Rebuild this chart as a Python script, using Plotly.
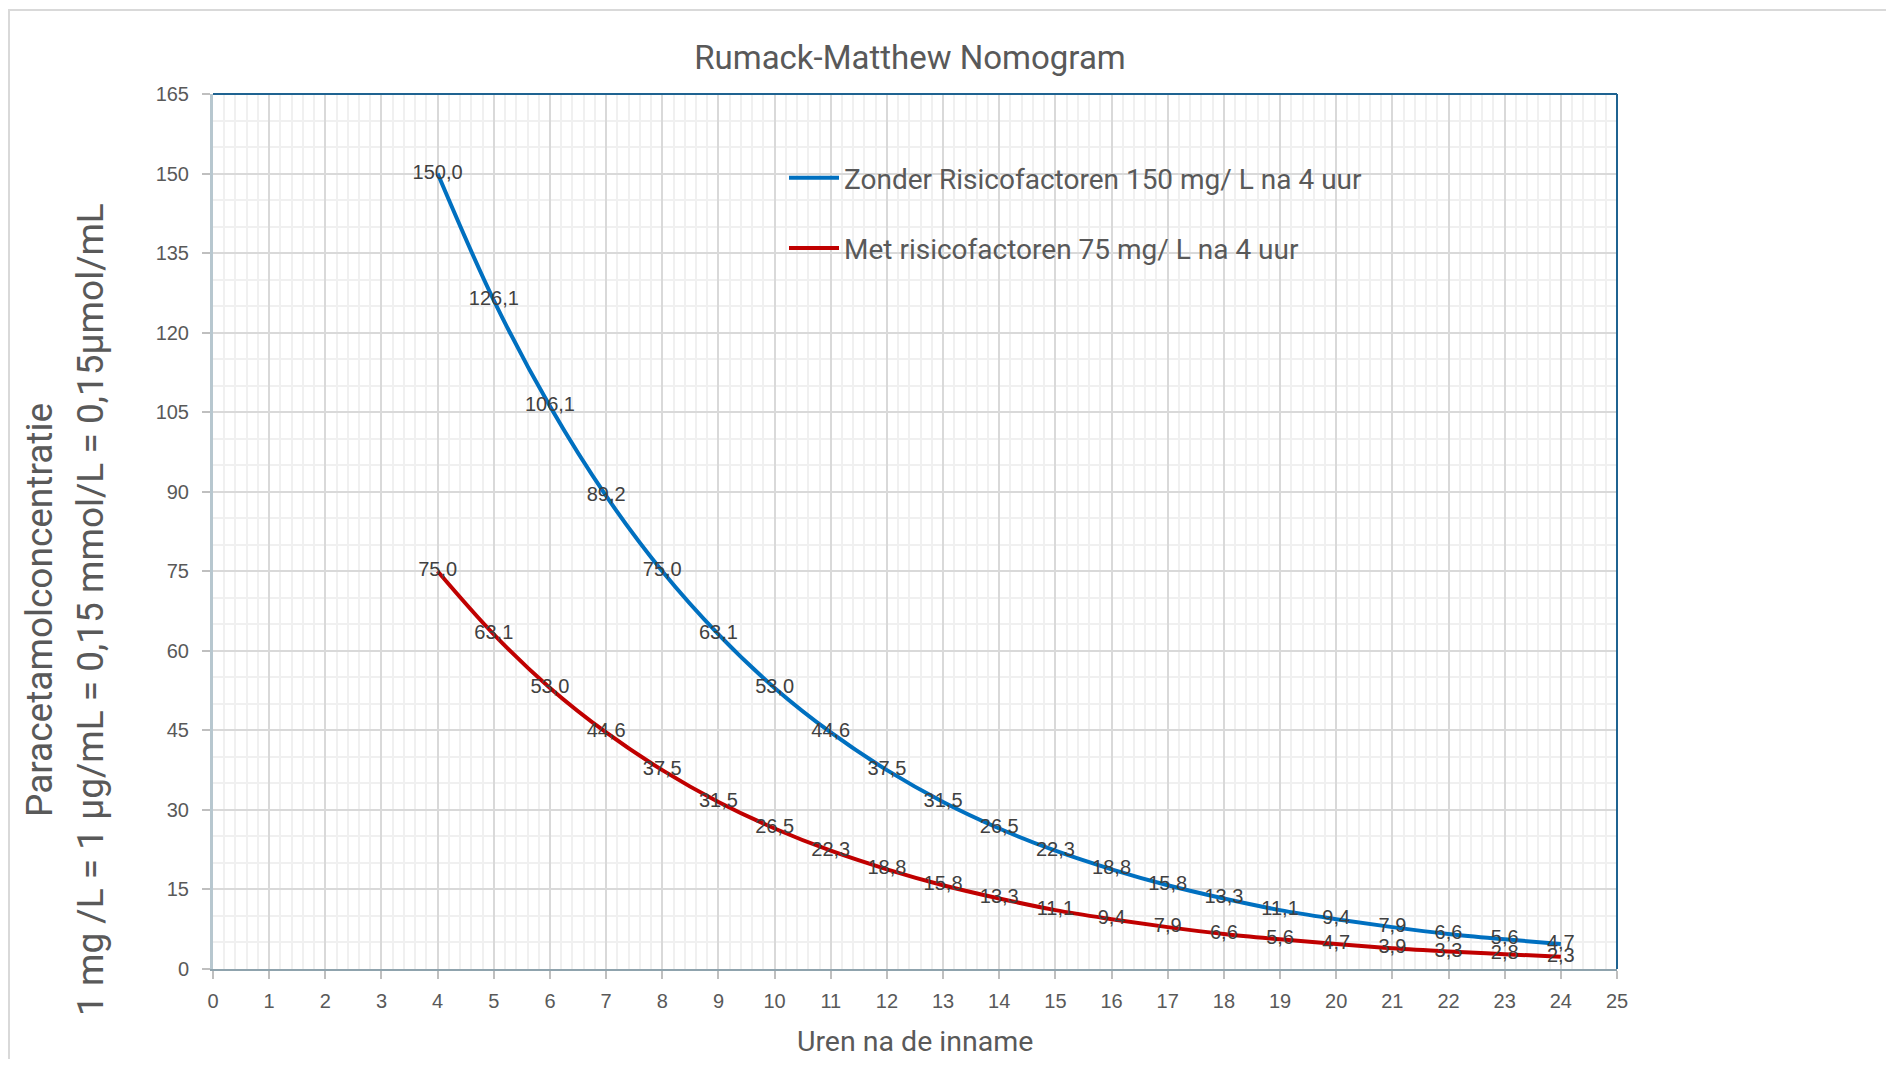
import plotly.graph_objects as go

hours = [4, 5, 6, 7, 8, 9, 10, 11, 12, 13, 14, 15, 16, 17, 18, 19, 20, 21, 22, 23, 24]
zonder = [150.0, 126.1, 106.1, 89.2, 75.0, 63.1, 53.0, 44.6, 37.5, 31.5, 26.5, 22.3,
          18.8, 15.8, 13.3, 11.1, 9.4, 7.9, 6.6, 5.6, 4.7]
met = [75.0, 63.1, 53.0, 44.6, 37.5, 31.5, 26.5, 22.3, 18.8, 15.8, 13.3, 11.1,
       9.4, 7.9, 6.6, 5.6, 4.7, 3.9, 3.3, 2.8, 2.3]
series_names = ["Zonder Risicofactoren 150 mg/ L na 4 uur", "Met risicofactoren 75 mg/ L na 4 uur"]
series_colors = ["#0070C0", "#C00000"]
x_ticks = list(range(0, 26))
y_ticks = list(range(0, 166, 15))

# page has an 8px body margin; work in page coordinates and convert
OFF = 8
W, H = 1894 - 2 * OFF, 1067 - 2 * OFF
P_L, P_R, P_T, P_B = 213, 1617, 94, 969  # plot area in page pixels
ML, MT = P_L - OFF, P_T - OFF
MR = W - (P_R - OFF)
MB = H - (P_B - OFF)
PW, PH = P_R - P_L, P_B - P_T

def px(x):
    return (x - P_L) / PW

def py(y):
    return (P_B - y) / PH

fig = go.Figure()
for i, (name, vals, col) in enumerate(zip(series_names, [zonder, met], series_colors)):
    fig.add_trace(go.Scatter(
        x=hours, y=vals, name=name, mode="lines+text",
        line=dict(color=col, width=4, shape="spline"),
        texttemplate="%{y:.1f}", textposition="middle center",
        textfont=dict(family="Liberation Sans", size=20, color="#404040"),
        legendgroup=f"g{i}", hoverinfo="skip",
    ))

fig.update_layout(
    width=W, height=H, separators=",.",
    margin=dict(l=ML, r=MR, t=MT, b=MB),
    paper_bgcolor="white", plot_bgcolor="white",
    title=dict(text="Rumack-Matthew Nomogram", x=(910 - OFF) / W, xanchor="center",
               y=1 - (57 - OFF) / H, yanchor="middle",
               font=dict(family="Roboto", size=33, color="#595959")),
    legend=dict(x=px(784), y=py(153), xanchor="left", yanchor="top",
                bgcolor="rgba(0,0,0,0)", tracegroupgap=31,
                font=dict(family="Roboto", size=28, color="#595959"),
                itemwidth=50),
    showlegend=True,
)
fig.update_xaxes(
    range=[0, 25], tickvals=x_ticks, ticktext=[str(v) for v in x_ticks],
    showgrid=True, gridcolor="#d9d9d9", gridwidth=2,
    minor=dict(dtick=0.2, showgrid=True, gridcolor="#f0f0f0", gridwidth=2),
    showline=True, linecolor="#8fa3ad", linewidth=2,
    ticks="outside", ticklen=8, tickcolor="#bfbfbf", tickwidth=2,
    ticklabelstandoff=5,
    tickfont=dict(family="Liberation Sans", size=20, color="#595959"),
    zeroline=False, fixedrange=True,
)
fig.update_yaxes(
    range=[0, 165], tickvals=y_ticks, ticktext=[str(v) for v in y_ticks],
    showgrid=True, gridcolor="#d9d9d9", gridwidth=2,
    minor=dict(dtick=5, showgrid=True, gridcolor="#f0f0f0", gridwidth=2),
    showline=True, linecolor="#b7c7cf", linewidth=3,
    ticks="outside", ticklen=8, tickcolor="#bfbfbf", tickwidth=2,
    ticklabelstandoff=9,
    tickfont=dict(family="Liberation Sans", size=20, color="#595959"),
    zeroline=False, fixedrange=True,
)

# plot-area border (top and right)
fig.add_shape(type="line", xref="paper", yref="paper", x0=0, x1=1, y0=1, y1=1,
              line=dict(color="#1f6391", width=2))
fig.add_shape(type="line", xref="paper", yref="paper", x0=1, x1=1, y0=0, y1=1,
              line=dict(color="#1f6391", width=2))
# chart outer border
fig.add_shape(type="rect", xref="paper", yref="paper", x0=px(9), x1=px(1910),
              y0=py(1090), y1=py(10), line=dict(color="#d9d9d9", width=2), layer="below")

fig.add_annotation(text="Paracetamolconcentratie", xref="paper", yref="paper",
                   x=px(40), y=py(610), textangle=-90, showarrow=False,
                   xanchor="center", yanchor="middle",
                   font=dict(family="Roboto", size=37, color="#595959"))
fig.add_annotation(text="1 mg /L = 1 µg/mL = 0,15 mmol/L = 0,15µmol/mL", xref="paper", yref="paper",
                   x=px(91), y=py(610), textangle=-90, showarrow=False,
                   xanchor="center", yanchor="middle",
                   font=dict(family="Roboto", size=37, color="#595959"))
fig.add_annotation(text="Uren na de inname", xref="paper", yref="paper",
                   x=px(915), y=py(1041), showarrow=False,
                   xanchor="center", yanchor="middle",
                   font=dict(family="Roboto", size=28.5, color="#595959"))

fig.write_html("out.html", config={"displayModeBar": False})
